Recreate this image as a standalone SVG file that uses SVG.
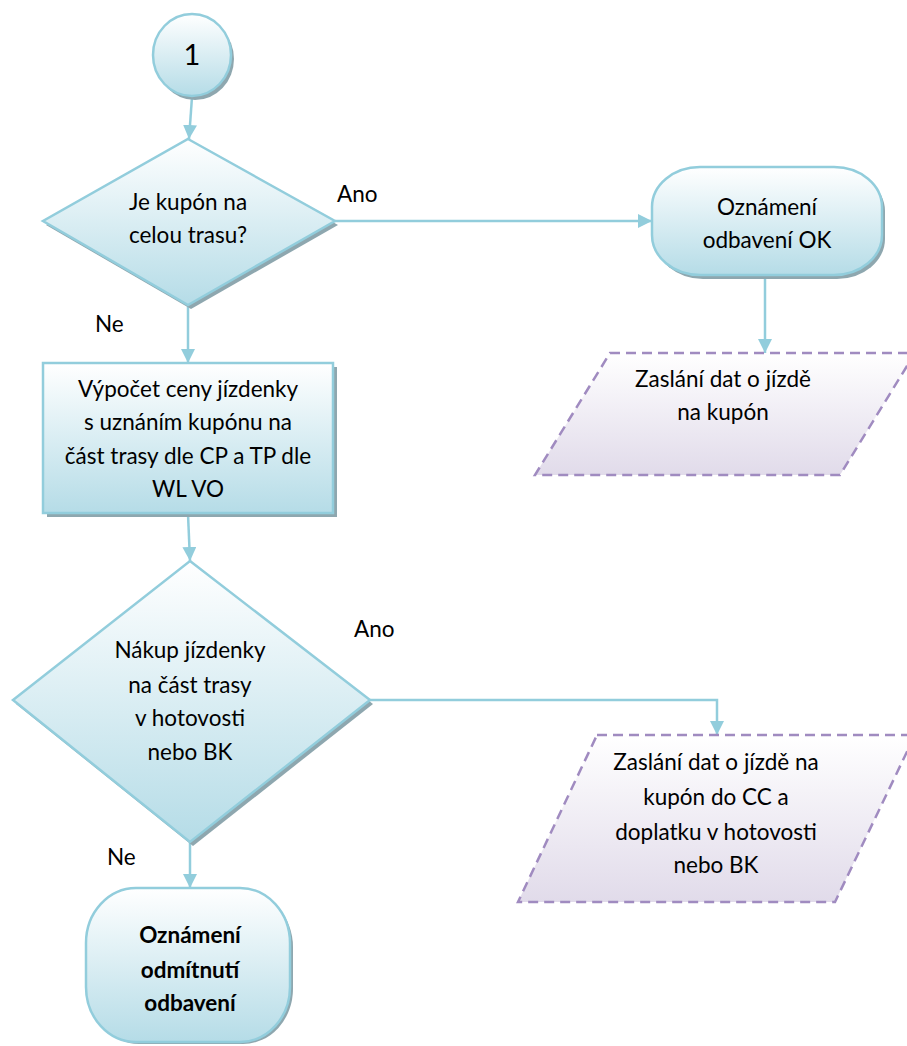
<svg xmlns="http://www.w3.org/2000/svg" width="907" height="1046" viewBox="0 0 907 1046">
<defs>
<linearGradient id="gb" x1="0" y1="0" x2="0" y2="1"><stop offset="0" stop-color="#FFFFFF"/><stop offset="1" stop-color="#B5DCE7"/></linearGradient>
<linearGradient id="gp" x1="0" y1="0" x2="0" y2="1"><stop offset="0" stop-color="#FFFFFF"/><stop offset="1" stop-color="#E1DBEA"/></linearGradient>
<marker id="ah" markerWidth="14" markerHeight="14" refX="14" refY="7" orient="auto" markerUnits="userSpaceOnUse"><path d="M0,0 L14,7 L0,14 Z" fill="#92CDDC"/></marker>
<style>
.n{fill:url(#gb);stroke:#92CDDC;stroke-width:2.5}
.sh{fill:#8EA7AF;stroke:none}
.io{fill:url(#gp);stroke:#A08BC0;stroke-width:2.5;stroke-dasharray:10,6}
.c{fill:none;stroke:#92CDDC;stroke-width:2.5;marker-end:url(#ah)}
text{font-family:Lato,"Liberation Sans",sans-serif;font-size:22.5px;fill:#000}
.m{text-anchor:middle}
.b{font-weight:bold}
</style>
</defs>
<g id="connectors">
<path class="c" d="M192,97 L189,139"/>
<path class="c" d="M335,221 L652,221"/>
<path class="c" d="M765,275 L765,353"/>
<path class="c" d="M188,305 L188,363"/>
<path class="c" d="M188,514 L190,561"/>
<path class="c" d="M370,700 L717,700 L717,735"/>
<path class="c" d="M190,842 L190,888"/>
<text x="337" y="202">Ano</text>
<text x="95" y="332">Ne</text>
<text x="354" y="637">Ano</text>
<text x="107" y="865">Ne</text>
</g>
<g id="start">
<ellipse class="sh" cx="195" cy="59" rx="39" ry="41"/>
<ellipse class="n" cx="192" cy="55" rx="39" ry="41"/>
<text class="m" x="192" y="65" style="font-size:29px">1</text>
</g>
<g id="decision1">
<polygon class="sh" points="191,142 338,225 191,309 46,225"/>
<polygon class="n" points="188,139 335,221 188,305 43,221"/>
<text class="m" x="188" y="210">Je kupón na</text>
<text class="m" x="188" y="243">celou trasu?</text>
</g>
<g id="ok">
<rect class="sh" x="655" y="171" width="230" height="108" rx="48" ry="40"/>
<rect class="n" x="652" y="167" width="230" height="108" rx="48" ry="40"/>
<text class="m" x="767" y="215">Oznámení</text>
<text class="m" x="767" y="248">odbavení OK</text>
</g>
<g id="send1">
<polygon class="io" points="610,353 915,353 840,475 535,475"/>
<text class="m" x="723" y="387">Zaslání dat o jízdě</text>
<text class="m" x="723" y="420">na kupón</text>
</g>
<g id="calc">
<rect class="sh" x="47" y="367" width="290" height="150"/>
<rect class="n" x="43" y="363" width="290" height="150"/>
<text class="m" x="188" y="397">Výpočet ceny jízdenky</text>
<text class="m" x="188" y="430">s uznáním kupónu na</text>
<text class="m" x="188" y="464">část trasy dle CP a TP dle</text>
<text class="m" x="188" y="497">WL VO</text>
</g>
<g id="decision2">
<polygon class="sh" points="193,564 373,704 193,846 16,704"/>
<polygon class="n" points="190,561 370,700 190,842 13,700"/>
<text class="m" x="190" y="658">Nákup jízdenky</text>
<text class="m" x="190" y="693">na část trasy</text>
<text class="m" x="190" y="726">v hotovosti</text>
<text class="m" x="190" y="760">nebo BK</text>
</g>
<g id="send2">
<polygon class="io" points="597,735 915,735 835,902 518,902"/>
<text class="m" x="716" y="770">Zaslání dat o jízdě na</text>
<text class="m" x="716" y="805">kupón do CC a</text>
<text class="m" x="716" y="840">doplatku v hotovosti</text>
<text class="m" x="716" y="873">nebo BK</text>
</g>
<g id="reject">
<rect class="sh" x="89" y="892" width="204" height="152" rx="50" ry="55"/>
<rect class="n" x="86" y="888" width="204" height="154" rx="50" ry="55"/>
<text class="m b" x="190" y="943">Oznámení</text>
<text class="m b" x="190" y="978">odmítnutí</text>
<text class="m b" x="190" y="1011">odbavení</text>
</g>
</svg>
